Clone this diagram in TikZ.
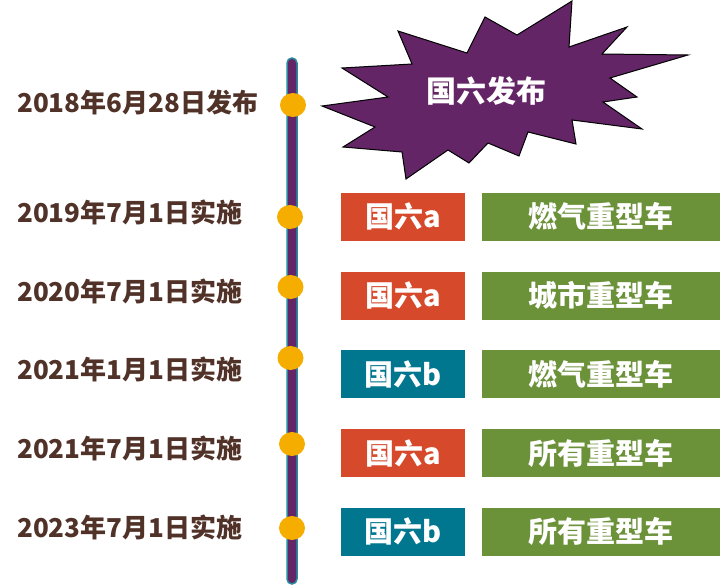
\documentclass[tikz,border=0pt]{standalone}
\usepackage{fontspec}
\setmainfont{Noto Sans CJK SC}
\usepackage{tikz}
\usetikzlibrary{positioning,shapes.geometric}

\definecolor{datebrown}{RGB}{80,50,40}
\definecolor{barpurple}{RGB}{99,37,101}
\definecolor{barteal}{RGB}{40,140,160}
\definecolor{dotorange}{RGB}{245,174,0}
\definecolor{boxred}{RGB}{214,73,42}
\definecolor{boxblue}{RGB}{0,118,143}
\definecolor{boxgreen}{RGB}{107,145,57}

\tikzset{
	datelabel/.style={anchor=west, inner sep=0, text=datebrown, font=\bfseries\fontsize{26}{26}\selectfont},
	dot/.style={ellipse, fill=dotorange, minimum width=26pt, minimum height=24pt, inner sep=0},
	stdbox/.style={minimum width=124pt, minimum height=48pt, inner sep=0, text=white, font=\bfseries\fontsize{29}{29}\selectfont},
	redbox/.style={stdbox, fill=boxred},
	bluebox/.style={stdbox, fill=boxblue},
	greenbox/.style={stdbox, fill=boxgreen, minimum width=238pt},
	burst/.style={fill=barpurple, draw=black, line width=1pt, line join=miter}
}

\begin{document}
\begin{tikzpicture}[x=1pt,y=-1pt]
		\useasboundingbox (0,0) rectangle (720,586);

		% time axis
		\draw[fill=barpurple, draw=barteal, line width=1.5pt, rounded corners=5pt] (287,58) rectangle (297,584);

		% announcement burst
		\draw[burst] (322,106) -- (388,97) -- (342,68) -- (412,64) -- (398,31) -- (467,53) -- (485,17)
			-- (517,35) -- (572,1) -- (569,47) -- (627,27) -- (602,54) -- (688,55) -- (610,78)
			-- (637,97) -- (603,102) -- (642,129) -- (572,120) -- (576,144) -- (528,132) -- (519,156)
			-- (488,143) -- (469,163) -- (448,150) -- (406,179) -- (402,152) -- (343,147) -- (375,127) -- cycle;
		\node[text=white, font=\bfseries\fontsize{30}{30}\selectfont] (pub) at (486,91) {国六发布};

		% dots on the axis
		\node[dot] (d1) at (293,105) {};
		\node[dot] (d2) at (290,217) {};
		\node[dot] (d3) at (290.5,287) {};
		\node[dot] (d4) at (290.5,358) {};
		\node[dot] (d5) at (292,444) {};
		\node[dot] (d6) at (292,528) {};

		% dates
		\node[datelabel] (t1) at (17,102.5) {2018年6月28日发布};
		\node[datelabel] (t2) at (17,212.5) {2019年7月1日实施};
		\node[datelabel] (t3) at (17,291) {2020年7月1日实施};
		\node[datelabel] (t4) at (17,369) {2021年1月1日实施};
		\node[datelabel] (t5) at (17,448) {2021年7月1日实施};
		\node[datelabel] (t6) at (17,527) {2023年7月1日实施};

		% stages and vehicles
		\node[redbox] (s1) at (403,216.5) {国六a};
		\node[greenbox, right=17pt of s1] (v1) {燃气重型车};
		\node[redbox] (s2) at (403,295.5) {国六a};
		\node[greenbox, right=17pt of s2] (v2) {城市重型车};
		\node[bluebox] (s3) at (403,374) {国六b};
		\node[greenbox, right=17pt of s3] (v3) {燃气重型车};
		\node[redbox] (s4) at (403,453) {国六a};
		\node[greenbox, right=17pt of s4] (v4) {所有重型车};
		\node[bluebox] (s5) at (403,531.5) {国六b};
		\node[greenbox, right=17pt of s5] (v5) {所有重型车};
	\end{tikzpicture}
\end{document}
